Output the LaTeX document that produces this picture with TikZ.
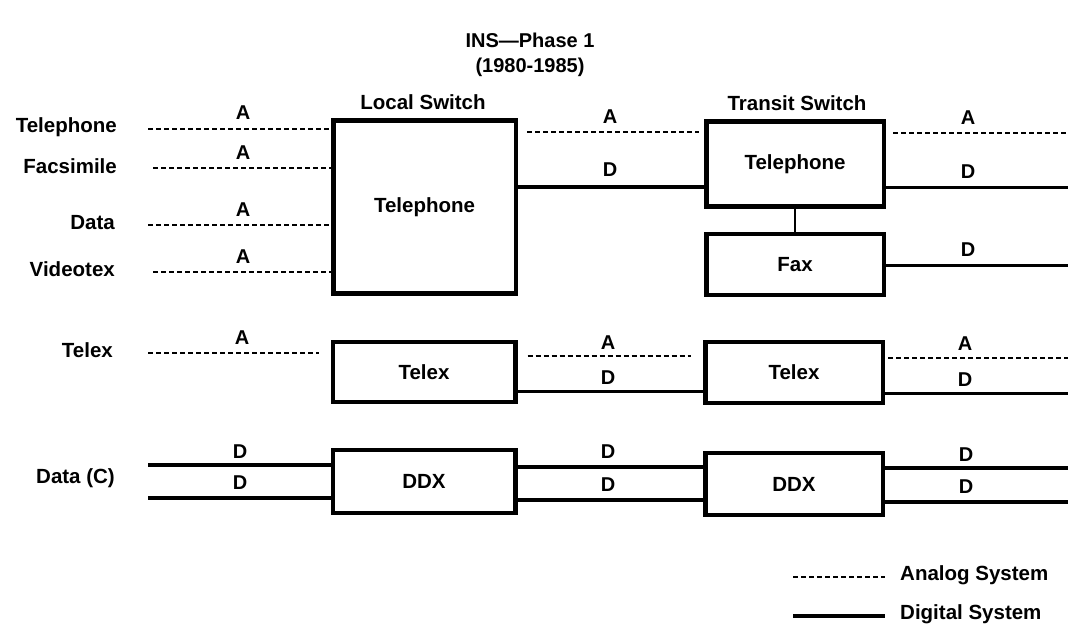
\documentclass[tikz,border=0pt]{standalone}
\usepackage{fontspec}
\setmainfont{Liberation Sans}
\begin{document}
\begin{tikzpicture}[x=1pt,y=-1pt,
  txt/.style={font=\bfseries\fontsize{20.5}{24}\selectfont, inner sep=0pt},
  sig/.style={font=\bfseries\fontsize{20}{24}\selectfont, inner sep=0pt},
  ttl/.style={font=\bfseries\fontsize{20}{24}\selectfont, inner sep=0pt},
  box/.style={draw, line width=4.5pt, inner sep=0pt, font=\bfseries\fontsize{20.5}{24}\selectfont},
  lbox/.style={box, minimum width=182.5pt},
  tbox/.style={box, minimum width=177.5pt},
  analog/.style={line width=2.2pt, dash pattern=on 5pt off 3pt},
  digital/.style={line width=3pt},
  thick digital/.style={line width=4pt}]
\useasboundingbox[fill=white] (0,0) rectangle (1068,631);

% title
\node[ttl] (t1) at (530,40) {INS—Phase 1};
\node[ttl] (t2) at (530,67) {(1980-1985)};

% boxes
\node[lbox, minimum height=173pt] (LT) at (424.5,207) {Telephone};
\node[tbox, minimum height=85pt] (TT) at (795,164) {Telephone};
\node[tbox, minimum height=61pt] (TF) at (795,264.5) {Fax};
\node[lbox, minimum height=60pt] (LX) at (424,372) {Telex};
\node[tbox, minimum height=61pt] (TX) at (794,372.5) {Telex};
\node[lbox, minimum height=63pt] (LD) at (424,481.5) {DDX};
\node[tbox, minimum height=62pt] (TD) at (794,484) {DDX};

\node[txt] (ls) at (423,102) {Local Switch};
\node[txt] (ts) at (797,103) {Transit Switch};

% left labels
\node[txt, anchor=east] (lTel) at (117,127) {Telephone};
\node[txt, anchor=east] (lFac) at (117,166) {Facsimile};
\node[txt, anchor=east] (lDat) at (115,223) {Data};
\node[txt, anchor=east] (lVid) at (115,269) {Videotex};
\node[txt, anchor=east] (lTlx) at (113,350) {Telex};
\node[txt, anchor=east] (lDC) at (115,478) {Data (C)};

% left free ends
\coordinate (s1) at (148,129);
\coordinate (s2) at (153,168);
\coordinate (s3) at (148,225);
\coordinate (s4) at (153,272);
\coordinate (s5) at (148,353);
\coordinate (s6) at (148,465);
\coordinate (s7) at (148,498);

% right free ends
\coordinate (r1) at (1068,133);
\coordinate (r2) at (1068,188);
\coordinate (r3) at (1068,265);
\coordinate (r4) at (1068,358);
\coordinate (r5) at (1068,393);
\coordinate (r6) at (1068,468);
\coordinate (r7) at (1068,502);

% middle levels
\coordinate (m1) at (0,132);
\coordinate (m2) at (0,187);
\coordinate (m3) at (0,356);
\coordinate (m4) at (0,391);
\coordinate (m5) at (0,467);
\coordinate (m6) at (0,500);

% row 1 inputs
\draw[analog] (s1) -- (s1 -| LT.west);
\draw[analog] (s2) -- (s2 -| LT.west);
\draw[analog] (s3) -- (s3 -| LT.west);
\draw[analog] (s4) -- (s4 -| LT.west);
\node[sig] (a1) at (243,113) {A};
\node[sig] (a2) at (243,153) {A};
\node[sig] (a3) at (243,210) {A};
\node[sig] (a4) at (243,257) {A};

% local -> transit telephone
\draw[analog, shorten <=9pt, shorten >=5pt] (LT.east |- m1) -- (TT.west |- m1);
\draw[thick digital] (LT.east |- m2) -- (TT.west |- m2);
\node[sig] (a5) at (610,117) {A};
\node[sig] (d1) at (610,170) {D};

% transit telephone/fax outputs
\draw[analog, shorten <=7pt] (TT.east |- r1) -- (r1);
\draw[digital] (TT.east |- r2) -- (r2);
\draw[digital] (TF.east |- r3) -- (r3);
\node[sig] (a6) at (968,118) {A};
\node[sig] (d2) at (968,172) {D};
\node[sig] (d3) at (968,250) {D};
\draw[line width=2pt] (TT.south) -- (TF.north);

% telex row
\draw[analog, shorten >=12pt] (s5) -- (s5 -| LX.west);
\node[sig] (a7) at (242,338) {A};
\draw[analog, shorten <=10pt, shorten >=12pt] (LX.east |- m3) -- (TX.west |- m3);
\draw[digital] (LX.east |- m4) -- (TX.west |- m4);
\node[sig] (a8) at (608,343) {A};
\node[sig] (d4) at (608,378) {D};
\draw[analog, shorten <=3pt] (TX.east |- r4) -- (r4);
\draw[digital] (TX.east |- r5) -- (r5);
\node[sig] (a9) at (965,344) {A};
\node[sig] (d5) at (965,380) {D};

% DDX row
\draw[thick digital] (s6) -- (s6 -| LD.west);
\draw[thick digital] (s7) -- (s7 -| LD.west);
\node[sig] (d6) at (240,452) {D};
\node[sig] (d7) at (240,483) {D};
\draw[thick digital] (LD.east |- m5) -- (TD.west |- m5);
\draw[thick digital] (LD.east |- m6) -- (TD.west |- m6);
\node[sig] (d8) at (608,452) {D};
\node[sig] (d9) at (608,485) {D};
\draw[thick digital] (TD.east |- r6) -- (r6);
\draw[thick digital] (TD.east |- r7) -- (r7);
\node[sig] (d10) at (966,455) {D};
\node[sig] (d11) at (966,487) {D};

% legend
\node[txt, anchor=west] (ka) at (900,575) {Analog System};
\node[txt, anchor=west] (kd) at (900,614) {Digital System};
\coordinate (la) at (793,577);
\coordinate (ld) at (793,616);
\draw[analog] (la) -- (la -| 885,0);
\draw[thick digital] (ld) -- (ld -| 885,0);
\end{tikzpicture}
\end{document}
